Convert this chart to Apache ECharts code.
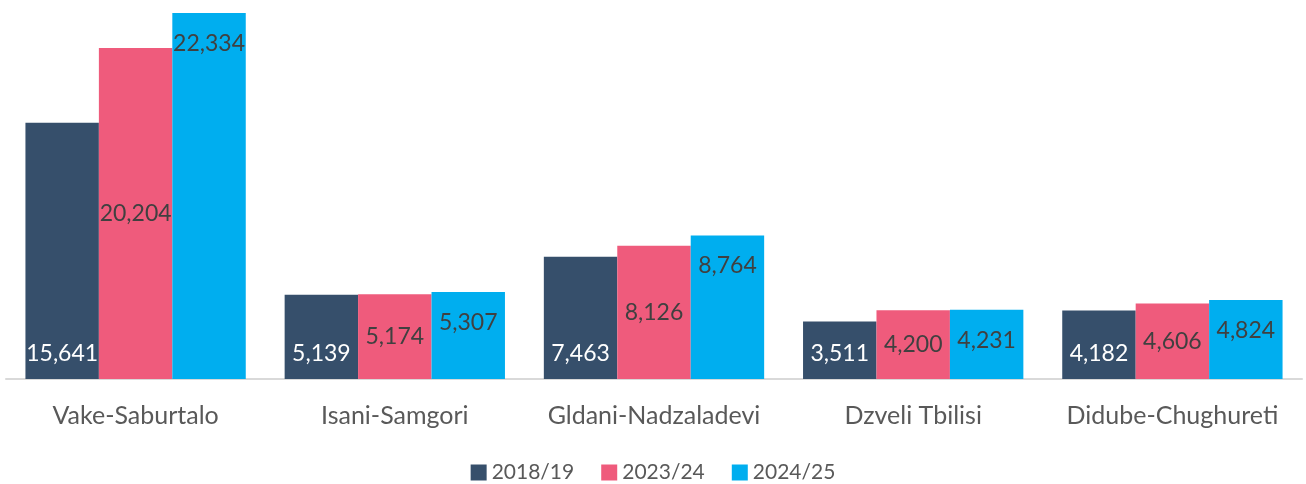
<!DOCTYPE html>
<html>
<head>
<meta charset="utf-8">
<script src="https://cdn.jsdelivr.net/npm/echarts@6/dist/echarts.min.js"></script>
<style>
  html, body { margin: 0; padding: 0; background: #fff; }
  #chart { width: 1306px; height: 484px; }
</style>
</head>
<body>
<div id="chart"></div>
<script>
  // districts and student counts per year
  var districts = ['Vake-Saburtalo', 'Isani-Samgori', 'Gldani-Nadzaladevi', 'Dzveli Tbilisi', 'Didube-Chughureti']
  var years = ['2018/19', '2023/24', '2024/25']
  var y2018 = [15641, 5139, 7463, 3511, 4182]
  var y2023 = [20204, 5174, 8126, 4200, 4606]
  var y2024 = [22334, 5307, 8764, 4231, 4824]

  var colors = ['#364f6b', '#ef5b7c', '#00aeef']
  var font = 'Lato'
  var fmt = function (p) { return p.value.toLocaleString('en-US') }

  var chart = echarts.init(document.getElementById('chart'))
  chart.setOption({
    animation: false,
    textStyle: { fontFamily: font },
    grid: { left: 6, right: 4, top: 13, bottom: 105 },
    legend: {
      top: 457,
      itemWidth: 16,
      itemHeight: 16,
      itemGap: 27,
      icon: 'rect',
      textStyle: { fontSize: 21, color: '#595959', fontFamily: font },
      data: years
    },
    xAxis: {
      type: 'category',
      data: districts,
      axisLine: { lineStyle: { color: '#d9d9d9', width: 2 } },
      axisTick: { show: false },
      axisLabel: { interval: 0, fontSize: 25, color: '#595959', margin: 24, fontFamily: font }
    },
    yAxis: {
      type: 'value',
      min: 0,
      max: 'dataMax',
      show: false,
      splitLine: { show: false }
    },
    series: [
      {
        name: years[0], type: 'bar', data: y2018, barGap: 0, barCategoryGap: '15%',
        itemStyle: { color: colors[0] },
        label: { show: true, position: 'insideBottom', distance: 14, color: '#fff', fontSize: 23, formatter: fmt }
      },
      {
        name: years[1], type: 'bar', data: y2023, barGap: 0, barCategoryGap: '15%',
        itemStyle: { color: colors[1] },
        label: { show: true, position: 'inside', color: '#404040', fontSize: 23, formatter: fmt }
      },
      {
        name: years[2], type: 'bar', data: y2024, barGap: 0, barCategoryGap: '15%',
        itemStyle: { color: colors[2] },
        label: { show: true, position: 'insideTop', distance: 19, color: '#404040', fontSize: 23, formatter: fmt }
      }
    ]
  })
</script>
</body>
</html>
